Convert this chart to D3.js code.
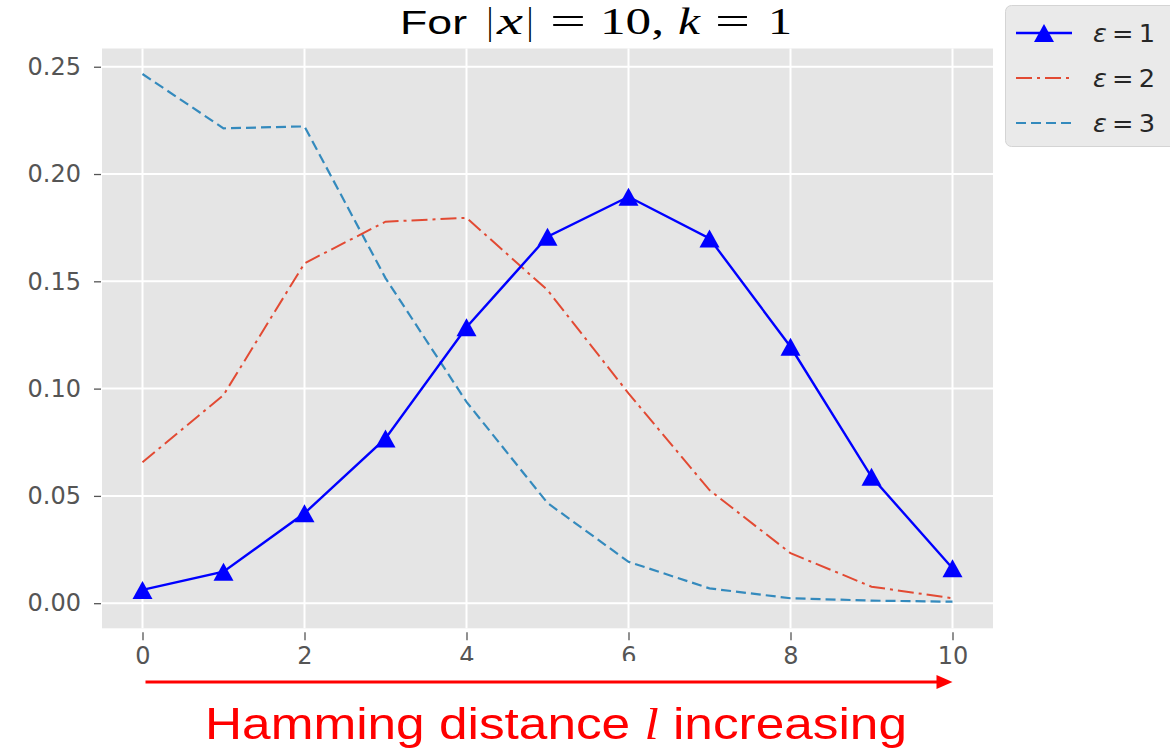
<!DOCTYPE html>
<html>
<head>
<meta charset="utf-8">
<script src="https://cdn.jsdelivr.net/npm/d3@7"></script>
<style>
  body { margin: 0; background: #fff; }
  svg { display: block; }
</style>
</head>
<body>
<svg id="chart"></svg>
<script>
const w = 1170;
const h = 748;

// hamming distance l
const hamming = [0, 1, 2, 3, 4, 5, 6, 7, 8, 9, 10];
const eps1 = [0.0062, 0.0147, 0.0419, 0.0768, 0.1286, 0.1708, 0.1894, 0.1700, 0.1195, 0.0589, 0.0163];
const eps2 = [0.0657, 0.0970, 0.1584, 0.1778, 0.1796, 0.1459, 0.0978, 0.0527, 0.0233, 0.0077, 0.0023];
const eps3 = [0.2466, 0.2213, 0.2222, 0.1515, 0.0938, 0.0467, 0.0193, 0.0069, 0.0023, 0.0012, 0.0007];
const seriesNames = ["1", "2", "3"];
const xTicks = [0, 2, 4, 6, 8, 10];
const yTicks = [0, 0.05, 0.10, 0.15, 0.20, 0.25];

const plot = { left: 102, right: 993, top: 48.5, bottom: 628.3 };

var chart = d3.select("#chart")
  .attr("width", w)
  .attr("height", h);

const xScale = d3.scaleLinear()
                 .domain([-0.5, 10.5])
                 .range([plot.left, plot.right]);

const yScale = d3.scaleLinear()
                 .domain([-0.0117, 0.2585])
                 .range([plot.bottom, plot.top]);

// background
chart.append("rect")
     .attr("x", plot.left)
     .attr("y", plot.top)
     .attr("width", plot.right - plot.left)
     .attr("height", plot.bottom - plot.top)
     .attr("fill", "#e5e5e5");

// grid
chart.append("g")
     .selectAll("line")
     .data(xTicks)
     .join("line")
     .attr("x1", d => xScale(d)).attr("x2", d => xScale(d))
     .attr("y1", plot.top).attr("y2", plot.bottom)
     .attr("stroke", "#fff").attr("stroke-width", 2);

chart.append("g")
     .selectAll("line")
     .data(yTicks)
     .join("line")
     .attr("y1", d => yScale(d)).attr("y2", d => yScale(d))
     .attr("x1", plot.left).attr("x2", plot.right)
     .attr("stroke", "#fff").attr("stroke-width", 2);

// axes
const xAxis = d3.axisBottom(xScale).tickValues(xTicks).tickSize(8).tickPadding(7).tickFormat(d3.format("d"));
const yAxis = d3.axisLeft(yScale).tickValues(yTicks).tickSize(8).tickPadding(12).tickFormat(d3.format(".2f"));

const gx = chart.append("g")
     .attr("id", "x-axis")
     .attr("transform", `translate(0, ${plot.bottom + 4})`)
     .call(xAxis);

const gy = chart.append("g")
     .attr("id", "y-axis")
     .attr("transform", `translate(${plot.left - 1}, 0)`)
     .call(yAxis);

[gx, gy].forEach(g => {
  g.select(".domain").remove();
  g.selectAll(".tick line").attr("stroke", "#555").attr("stroke-width", 1.3);
  g.selectAll(".tick text")
   .attr("fill", "#555")
   .style("font-family", "DejaVu Sans")
   .style("font-size", "24px");
});
gy.selectAll(".tick line").attr("x2", -7);

// lines
const line = d3.line()
               .x((d, i) => xScale(hamming[i]))
               .y(d => yScale(d));

chart.append("path")
     .datum(eps3)
     .attr("d", line)
     .attr("fill", "none")
     .attr("stroke", "#348abd")
     .attr("stroke-width", 2.2)
     .attr("stroke-dasharray", "10,5");

chart.append("path")
     .datum(eps2)
     .attr("d", line)
     .attr("fill", "none")
     .attr("stroke", "#e24a33")
     .attr("stroke-width", 2)
     .attr("stroke-dasharray", "16,5,3,5");

chart.append("path")
     .datum(eps1)
     .attr("d", line)
     .attr("fill", "none")
     .attr("stroke", "#0000ff")
     .attr("stroke-width", 2.4);

// matplotlib-like "^" marker
const triangle = {
  draw(ctx, size) {
    const hw = Math.sqrt(size) / 2;
    const hh = hw * 0.9;
    ctx.moveTo(0, -hh);
    ctx.lineTo(hw, hh);
    ctx.lineTo(-hw, hh);
    ctx.closePath();
  }
};
const marker = d3.symbol().type(triangle).size(400);

chart.append("g")
     .selectAll("path")
     .data(eps1)
     .join("path")
     .attr("d", marker)
     .attr("transform", (d, i) => `translate(${xScale(hamming[i])}, ${yScale(d)})`)
     .attr("fill", "#0000ff");

// title, laid out piece by piece like the math text
const titleParts = [
  { t: "For", x: 400, len: 67, sans: true },
  { t: "|", x: 487, len: 6 },
  { t: "x", x: 497, len: 26, it: true },
  { t: "|", x: 527, len: 6 },
  { t: "=", x: 550, len: 36 },
  { t: "10,", x: 600, len: 64 },
  { t: "k", x: 678, len: 22, it: true },
  { t: "=", x: 715, len: 35 },
  { t: "1", x: 768, len: 24 }
];
chart.append("g")
     .selectAll("text")
     .data(titleParts)
     .join("text")
     .attr("x", d => d.x)
     .attr("y", 34)
     .attr("textLength", d => d.len)
     .attr("lengthAdjust", "spacingAndGlyphs")
     .attr("fill", "#000")
     .style("font-family", d => d.sans ? "Liberation Sans" : "Liberation Serif")
     .style("font-style", d => d.it ? "italic" : "normal")
     .style("font-size", d => d.sans ? "34px" : "38px")
     .text(d => d.t);

// legend
const legend = chart.append("g");
legend.append("rect")
      .attr("x", 1005.5).attr("y", 5.5)
      .attr("width", 180).attr("height", 141)
      .attr("rx", 6)
      .attr("fill", "#eaeaea")
      .attr("stroke", "#d4d4d4");

const legendStyles = [
  { color: "#0000ff", dash: null, width: 2.4 },
  { color: "#e24a33", dash: "16,5,3,5", width: 2 },
  { color: "#348abd", dash: "10,5", width: 2.2 }
];
const legendY = d3.scalePoint().domain(seriesNames).range([33, 123]);

seriesNames.forEach((name, i) => {
  const y = legendY(name);
  legend.append("line")
        .attr("x1", 1016).attr("x2", 1072)
        .attr("y1", y).attr("y2", y)
        .attr("stroke", legendStyles[i].color)
        .attr("stroke-width", legendStyles[i].width)
        .attr("stroke-dasharray", legendStyles[i].dash);
  if (i === 0) {
    legend.append("path")
          .attr("d", marker)
          .attr("transform", `translate(1044, ${y})`)
          .attr("fill", "#0000ff");
  }
  const t = legend.append("text")
        .attr("x", 1093).attr("y", y + 9)
        .attr("fill", "#262626")
        .attr("textLength", 62)
        .attr("lengthAdjust", "spacingAndGlyphs")
        .style("font-family", "DejaVu Sans")
        .style("font-size", "24px");
  t.append("tspan").style("font-style", "italic").text("ε");
  t.append("tspan").text("\u2009=\u2009" + name);
});

// annotation: cover box, arrow and label
chart.append("rect")
     .attr("x", 400).attr("y", 661)
     .attr("width", 320).attr("height", 40)
     .attr("fill", "#fff");

chart.append("line")
     .attr("x1", xScale(0) + 3).attr("x2", xScale(10) - 14)
     .attr("y1", 682).attr("y2", 682)
     .attr("stroke", "#ff0000")
     .attr("stroke-width", 3);

chart.append("path")
     .attr("d", `M${xScale(10)},682 L${xScale(10) - 16},675 L${xScale(10) - 16},689 Z`)
     .attr("fill", "#ff0000");

const ann = chart.append("text")
     .attr("x", 205)
     .attr("y", 739)
     .attr("fill", "#ff0000")
     .attr("textLength", 702)
     .attr("lengthAdjust", "spacingAndGlyphs")
     .style("font-family", "Liberation Sans Narrow, Liberation Sans")
     .style("font-size", "45px");
ann.append("tspan").text("Hamming distance ");
ann.append("tspan").style("font-family", "Liberation Serif").style("font-style", "italic").text("l");
ann.append("tspan").text(" increasing");
</script>
</body>
</html>
